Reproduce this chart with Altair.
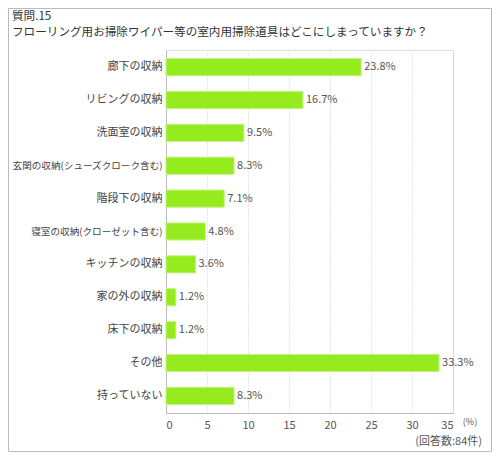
import pandas as pd
import altair as alt

FONT = "Noto Sans CJK JP"

# data
places = [
    "廊下の収納",
    "リビングの収納",
    "洗面室の収納",
    "玄関の収納(シューズクローク含む)",
    "階段下の収納",
    "寝室の収納(クローゼット含む)",
    "キッチンの収納",
    "家の外の収納",
    "床下の収納",
    "その他",
    "持っていない",
]
shares = [23.8, 16.7, 9.5, 8.3, 7.1, 4.8, 3.6, 1.2, 1.2, 33.3, 8.3]
x_ticks = [0, 5, 10, 15, 20, 25, 30, 35]

title_lines = ["質問.15", "フローリング用お掃除ワイパー等の室内用掃除道具はどこにしまっていますか？"]
unit_note = "(%)"
count_note = "(回答数:84件)"

df = pd.DataFrame({"place": places, "share": shares})

W, H = 287, 363
PAD_L, PAD_T = 158, 42
TOTAL_W, TOTAL_H = 484, 444

base = alt.Chart(df)

bars = base.mark_bar(color="#96EB1E", stroke="#C2F27E", strokeWidth=1).encode(
    y=alt.Y("place:N", sort=places, title=None,
            scale=alt.Scale(paddingInner=0.48, paddingOuter=0.26)).axis(
        labelFont=FONT,
        # the two long labels get a smaller size so they fit on the left
        labelFontSize=alt.ExprRef("length(datum.label) > 10 ? 9.6 : 11"),
        labelColor="#444", labelPadding=4,
        ticks=False, domainColor="#bbb", labelLimit=200),
    x=alt.X("share:Q", title=None,
            scale=alt.Scale(domain=[0, 35], nice=False)).axis(
        values=x_ticks, grid=True, gridColor="#ccc", gridDash=[1, 2],
        ticks=False, domainColor="#bbb", labelFont=FONT, labelFontSize=11,
        labelColor="#555", labelPadding=6),
)

values = base.mark_text(align="left", dx=3, font=FONT, fontSize=11, color="#555").transform_calculate(
    lbl="format(datum.share, '.1f') + '%'"
).encode(
    y=alt.Y("place:N", sort=places),
    x="share:Q",
    text="lbl:N",
)

one = pd.DataFrame({"a": [0]})

border = alt.Chart(one).mark_rect(fill=None, stroke="#bbb", strokeWidth=1).encode(
    x=alt.value(-PAD_L + 0.5), x2=alt.value(TOTAL_W - PAD_L - 0.5),
    y=alt.value(-PAD_T + 0.5), y2=alt.value(TOTAL_H - PAD_T - 0.5),
)

title1 = alt.Chart(one).mark_text(
    text=title_lines[0], align="left", baseline="middle", font=FONT,
    fontSize=11.6, color="#333").encode(x=alt.value(-154), y=alt.value(-33))
title2 = alt.Chart(one).mark_text(
    text=title_lines[1], align="left", baseline="middle", font=FONT,
    fontSize=11.6, color="#333").encode(x=alt.value(-154), y=alt.value(-17))

unit = alt.Chart(one).mark_text(
    text=unit_note, align="center", baseline="middle", font=FONT,
    fontSize=9, color="#555").encode(x=alt.value(304), y=alt.value(372))
count = alt.Chart(one).mark_text(
    text=count_note, align="right", baseline="middle", font=FONT,
    fontSize=11, color="#555").encode(x=alt.value(316), y=alt.value(392))

chart = alt.layer(border, bars, values, title1, title2, unit, count).properties(
    width=W,
    height=H,
    autosize=alt.AutoSizeParams(type="none"),
    padding={"left": PAD_L, "top": PAD_T,
             "right": TOTAL_W - PAD_L - W, "bottom": TOTAL_H - PAD_T - H},
).configure_view(stroke=None).configure(background="white")

chart.save("out.html", embed_options={"renderer": "svg", "actions": False})
